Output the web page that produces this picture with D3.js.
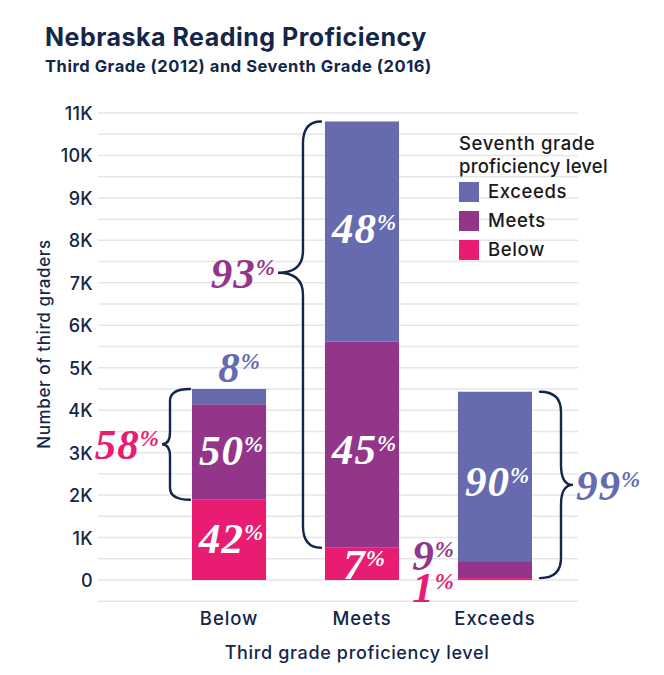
<!DOCTYPE html>
<html>
<head>
<meta charset="utf-8">
<script src="https://cdn.jsdelivr.net/npm/d3@7"></script>
<style>
  html, body { margin: 0; padding: 0; background: #fff; }
  svg { display: block; }
</style>
</head>
<body>
<svg id="chart" width="664" height="675"></svg>
<script>
// ---------- DATA ----------
const categories = ["Below", "Meets", "Exceeds"];          // third grade level
const seventhLevels = ["Below", "Meets", "Exceeds"];        // seventh grade level (stack order)
const belowCounts   = [1890, 760, 45];                      // seventh grade "Below"
const meetsCounts   = [2250, 4860, 400];                    // seventh grade "Meets"
const exceedsCounts = [360, 5180, 3990];                    // seventh grade "Exceeds"
const belowPctLabels   = ["42", "7", "1"];
const meetsPctLabels   = ["50", "45", "9"];
const exceedsPctLabels = ["8", "48", "90"];
const bracePctLabels   = ["58", "93", "99"];
const yTickValues = [0, 1000, 2000, 3000, 4000, 5000, 6000, 7000, 8000, 9000, 10000, 11000];
const yTickLabels = ["0", "1K", "2K", "3K", "4K", "5K", "6K", "7K", "8K", "9K", "10K", "11K"];
const gridValues = d3.range(-500, 11001, 500);

// ---------- STYLE ----------
const colors = { Below: "#e81c71", Meets: "#93368a", Exceeds: "#666aaf" };
const navy = "#14264a";
const sans = "Inter, 'Noto Sans', sans-serif";
const serif = "'Liberation Serif', 'DejaVu Serif', serif";

const svg = d3.select("#chart");

const y = d3.scaleLinear().domain([0, 11000]).range([580, 113]);
const x = d3.scaleBand().domain(categories).range([192, 532]).paddingInner(0.443).paddingOuter(0);

// rows for stacking
const rows = categories.map((c, i) => ({
  cat: c, Below: belowCounts[i], Meets: meetsCounts[i], Exceeds: exceedsCounts[i]
}));
const stacked = d3.stack().keys(seventhLevels)(rows);

// ---------- TITLE ----------
svg.append("text").attr("x", 45).attr("y", 46)
  .attr("font-family", sans).attr("font-weight", 700).attr("font-size", 25)
  .attr("letter-spacing", 0.5)
  .attr("fill", navy).text("Nebraska Reading Proficiency");
svg.append("text").attr("x", 45).attr("y", 72)
  .attr("font-family", sans).attr("font-weight", 700).attr("font-size", 16.5)
  .attr("letter-spacing", 0.55)
  .attr("fill", navy).text("Third Grade (2012) and Seventh Grade (2016)");

// ---------- GRID ----------
svg.append("g").selectAll("line").data(gridValues).join("line")
  .attr("x1", 98).attr("x2", 578)
  .attr("y1", d => y(d)).attr("y2", d => y(d))
  .attr("stroke", "#e6e6ea").attr("stroke-width", 1.5);

// ---------- Y AXIS ----------
const yAxis = d3.axisLeft(y).tickValues(yTickValues)
  .tickFormat((d, i) => yTickLabels[i]).tickSize(0).tickPadding(0);
const gy = svg.append("g").attr("transform", "translate(93,0)").call(yAxis);
gy.select(".domain").remove();
gy.selectAll("text").attr("font-family", sans).attr("font-weight", 500)
  .attr("font-size", 18).attr("letter-spacing", 0.3).attr("fill", navy).attr("dy", "0.36em");

svg.append("text")
  .attr("transform", "translate(50,344) rotate(-90)")
  .attr("text-anchor", "middle")
  .attr("font-family", sans).attr("font-weight", 500).attr("font-size", 17)
  .attr("letter-spacing", 0.6)
  .attr("fill", navy).text("Number of third graders");

// ---------- X AXIS ----------
const xAxis = d3.axisBottom(x).tickSize(0).tickPadding(0);
const gx = svg.append("g").attr("transform", "translate(0,625)").call(xAxis);
gx.select(".domain").remove();
gx.selectAll("text").attr("font-family", sans).attr("font-weight", 500)
  .attr("font-size", 18.5).attr("letter-spacing", 0.9).attr("fill", navy).attr("dy", 0);

svg.append("text").attr("x", 357).attr("y", 659).attr("text-anchor", "middle")
  .attr("font-family", sans).attr("font-weight", 500).attr("font-size", 18)
  .attr("letter-spacing", 0.65)
  .attr("fill", navy).text("Third grade proficiency level");

// ---------- BARS ----------
const gBars = svg.append("g");
stacked.forEach(layer => {
  gBars.selectAll(null).data(layer).join("rect")
    .attr("x", d => x(d.data.cat))
    .attr("width", x.bandwidth())
    .attr("y", d => y(d[1]))
    .attr("height", d => y(d[0]) - y(d[1]))
    .attr("fill", colors[layer.key]);
});

// ---------- PERCENT LABELS ----------
function pctText(g, num, opts) {
  const t = g.append("text")
    .attr("x", opts.x).attr("y", opts.y)
    .attr("text-anchor", opts.anchor || "middle")
    .attr("font-family", serif).attr("font-style", "italic").attr("font-weight", 700)
    .attr("fill", opts.color);
  t.append("tspan").attr("font-size", 43).attr("letter-spacing", 1).text(num);
  t.append("tspan").attr("font-size", 23).attr("dy", -13).text("%");
  return t;
}
const gLab = svg.append("g");
const layerByKey = {};
stacked.forEach(l => layerByKey[l.key] = l);
const pctByKey = { Below: belowPctLabels, Meets: meetsPctLabels, Exceeds: exceedsPctLabels };

// inside labels: [level, category index, baseline offset from segment middle]
const insideLabels = [
  ["Below", 0, 13], ["Meets", 0, 13],
  ["Meets", 1, 19], ["Exceeds", 1, 12],
  ["Exceeds", 2, 20]
];
insideLabels.forEach(([lvl, i, off]) => {
  const d = layerByKey[lvl][i];
  pctText(gLab, pctByKey[lvl][i], {
    x: x(categories[i]) + x.bandwidth() / 2 + 2,
    y: (y(d[0]) + y(d[1])) / 2 + off, color: "#fff"
  });
});
// "7%" for Meets/Below segment (small segment, label near bottom)
{
  const d = layerByKey.Below[1];
  pctText(gLab, belowPctLabels[1], {
    x: x(categories[1]) + x.bandwidth() / 2 + 2, y: y(d[0]) - 1, color: "#fff"
  });
}
// "8%" above Below bar
{
  const d = layerByKey.Exceeds[0];
  pctText(gLab, exceedsPctLabels[0], {
    x: x(categories[0]) + x.bandwidth() / 2 + 10, y: y(d[1]) - 7, color: colors.Exceeds
  });
}
// "9%" and "1%" left of Exceeds bar
{
  const bx = x(categories[2]) - 4;
  pctText(gLab, meetsPctLabels[2], { x: bx, y: 570, anchor: "end", color: colors.Meets });
  pctText(gLab, belowPctLabels[2], { x: bx, y: 602, anchor: "end", color: colors.Below });
}

// ---------- BRACES ----------
function bracePath(xe, xs, xt, y0, y1, ym, r) {
  // xe: end x, xs: spine x, xt: tip x
  return `M${xe},${y0}` +
    ` Q${xs},${y0} ${xs},${y0 + r}` +
    ` L${xs},${ym - r}` +
    ` Q${xs},${ym} ${xt},${ym}` +
    ` Q${xs},${ym} ${xs},${ym + r}` +
    ` L${xs},${y1 - r}` +
    ` Q${xs},${y1} ${xe},${y1}`;
}
// [category index, side, gap, spine depth, tip depth, tip fraction, curl radius, label color]
const braceLayout = [
  [0, "left", 2, 20, 8, 0.5, 12, colors.Below],
  [1, "left", 4, 18, 25, 0.355, 22, colors.Meets],
  [2, "right", 8, 21, 12, 0.5, 20, colors.Exceeds]
];
const gBr = svg.append("g");
braceLayout.forEach(([i, side, gap, sp, tp, frac, r, col]) => {
  const top = y(layerByKey.Exceeds[i][1]);
  const bot = y(layerByKey.Below[i][1]);
  const s = side === "left" ? -1 : 1;
  const edge = side === "left" ? x(categories[i]) : x(categories[i]) + x.bandwidth();
  const xe = edge + s * gap, xs = xe + s * sp, xt = xs + s * tp;
  const ym = top + (bot - top) * frac;
  gBr.append("path").attr("d", bracePath(xe, xs, xt, top, bot, ym, r))
    .attr("fill", "none").attr("stroke", navy).attr("stroke-width", 2.4)
    .attr("stroke-linecap", "round");
  pctText(gLab, bracePctLabels[i], {
    x: xt + s * 3, y: ym + 15, anchor: side === "left" ? "end" : "start", color: col
  });
});

// ---------- LEGEND ----------
const gLeg = svg.append("g").attr("font-family", sans).attr("font-weight", 500)
  .attr("fill", "#1a1a1a").attr("letter-spacing", 0.6);
gLeg.append("text").attr("x", 459).attr("y", 150).attr("font-size", 18.5).text("Seventh grade");
gLeg.append("text").attr("x", 459).attr("y", 173).attr("font-size", 18.5).attr("letter-spacing", 0.2).text("proficiency level");
const legendOrder = seventhLevels.slice().reverse();
legendOrder.forEach((k, i) => {
  gLeg.append("rect").attr("x", 459).attr("y", 182 + i * 29).attr("width", 20).attr("height", 20)
    .attr("fill", colors[k]);
  gLeg.append("text").attr("x", 488).attr("y", 198 + i * 29).attr("font-size", 18.5).text(k);
});
</script>
</body>
</html>
